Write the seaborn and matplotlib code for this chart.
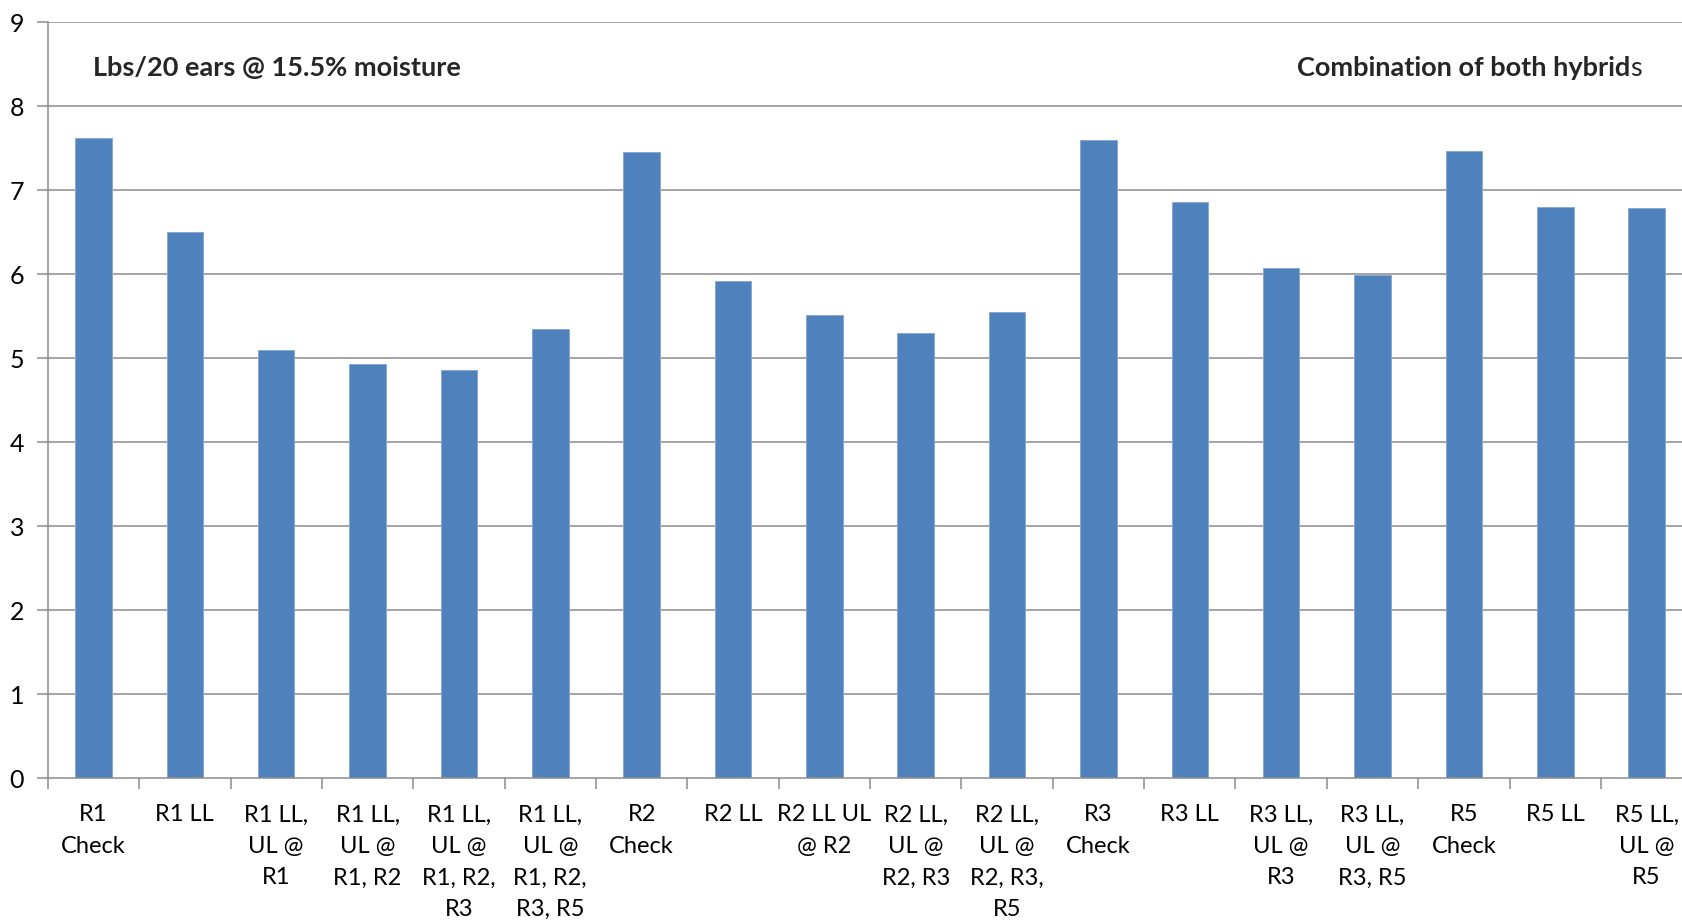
import matplotlib
matplotlib.use("Agg")
import matplotlib.pyplot as plt
import seaborn as sns
import pandas as pd
import numpy as np

# Treatment names and yield values (lbs per 20 ears)
treatments = [
    "R1 Check", "R1 LL", "R1 LL, UL @ R1", "R1 LL, UL @ R1, R2",
    "R1 LL, UL @ R1, R2, R3", "R1 LL, UL @ R1, R2, R3, R5",
    "R2 Check", "R2 LL", "R2 LL UL @ R2", "R2 LL, UL @ R2, R3",
    "R2 LL, UL @ R2, R3, R5", "R3 Check", "R3 LL", "R3 LL, UL @ R3",
    "R3 LL, UL @ R3, R5", "R5 Check", "R5 LL", "R5 LL, UL @ R5",
]
yields = [7.62, 6.50, 5.10, 4.93, 4.86, 5.34, 7.45, 5.92, 5.51, 5.30,
          5.55, 7.60, 6.86, 6.07, 5.99, 7.47, 6.80, 6.78]
tick_labels = [
    "R1\nCheck", "R1 LL", "R1 LL,\nUL @\nR1", "R1 LL,\nUL @\nR1, R2",
    "R1 LL,\nUL @\nR1, R2,\nR3", "R1 LL,\nUL @\nR1, R2,\nR3, R5",
    "R2\nCheck", "R2 LL", "R2 LL UL\n@ R2", "R2 LL,\nUL @\nR2, R3",
    "R2 LL,\nUL @\nR2, R3,\nR5", "R3\nCheck", "R3 LL", "R3 LL,\nUL @\nR3",
    "R3 LL,\nUL @\nR3, R5", "R5\nCheck", "R5 LL", "R5 LL,\nUL @\nR5",
]
y_ticks = [0, 1, 2, 3, 4, 5, 6, 7, 8, 9]

sns.set_theme(style="white")
plt.rcParams["font.family"] = ["Lato", "DejaVu Sans"]

df = pd.DataFrame({"treatment": treatments, "yield": yields})

fig = plt.figure(figsize=(16.82, 9.22), dpi=100)
W, H = 1682, 922
x0, x1 = 47.8, 1692.3
y0, y1 = 778, 22
ax = fig.add_axes([x0 / W, (H - y0) / H, (x1 - x0) / W, (y0 - y1) / H])

grid_col = "#8c8c8c"
ax.set_axisbelow(True)
for v in y_ticks[1:]:
    ax.axhline(v, color=grid_col, lw=1.1, zorder=0)

sns.barplot(data=df, x="treatment", y="yield", color="#4F81BD",
            saturation=1, width=0.4, edgecolor="#8aa9d2", linewidth=0.7,
            ax=ax, zorder=2)

ax.set_xlim(-0.5, len(treatments) - 0.5)
ax.set_ylim(0, 9)
ax.set_xlabel("")
ax.set_ylabel("")

# Category boundaries carry the tick marks; labels sit at the centres
ax.set_xticks(np.arange(len(treatments) + 1) - 0.5)
ax.set_xticklabels([])
ax.set_xticks(np.arange(len(treatments)), minor=True)
ax.set_xticklabels(tick_labels, minor=True, fontsize=17, linespacing=1.62,
                   color="black")
ax.tick_params(axis="x", which="major", direction="out", length=8,
               width=1.1, color=grid_col, bottom=True)
ax.tick_params(axis="x", which="minor", length=0, pad=19, bottom=True)

ax.set_yticks(y_ticks)
ax.set_yticklabels([str(v) for v in y_ticks], fontsize=18, color="black")
ax.tick_params(axis="y", direction="out", length=8, width=1.1,
               color=grid_col, left=True, pad=9)

for side in ["top", "right"]:
    ax.spines[side].set_visible(False)
for side in ["left", "bottom"]:
    ax.spines[side].set_color(grid_col)
    ax.spines[side].set_linewidth(1.1)

fig.text(93 / W, 1 - 68 / H, "Lbs/20 ears @ 15.5% moisture",
         fontsize=19.5, fontweight="bold", ha="left", va="center")
fig.text(1630 / W, 1 - 68 / H, "Combination of both hybrid",
         fontsize=19.5, fontweight="bold", ha="right", va="center")
fig.text(1630 / W, 1 - 68 / H, "s", fontsize=19.5, ha="left", va="center")

fig.savefig("out.png", dpi=100)
